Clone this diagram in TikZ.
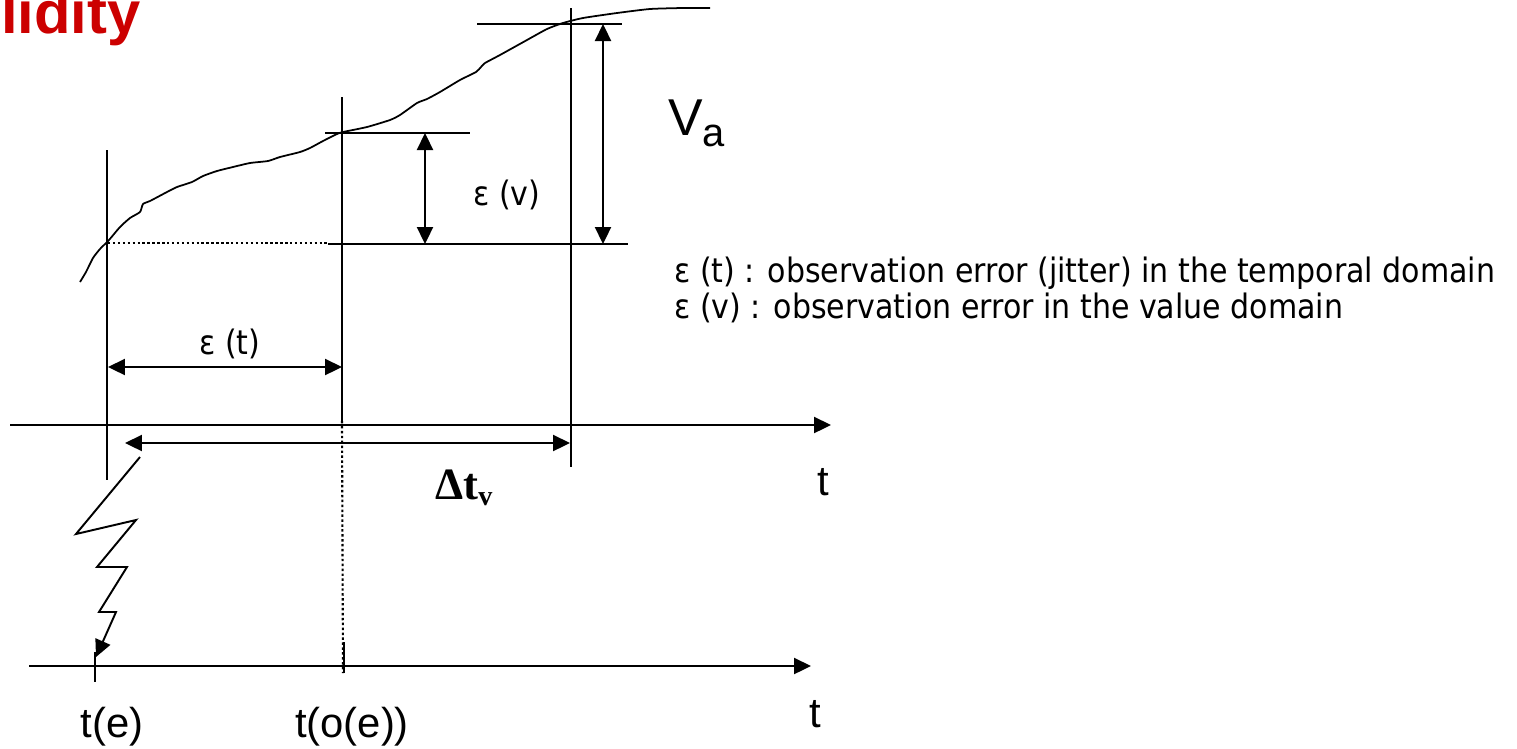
\documentclass[tikz,border=0pt]{standalone}
\usepackage{fontspec}
\setmainfont{Liberation Sans}
\newfontfamily\timesfont{Liberation Serif}
\newfontfamily\legendfont{DejaVu Sans}
\usetikzlibrary{arrows.meta}
\definecolor{titlered}{RGB}{204,0,0}
\newcommand{\tallish}[1]{\scalebox{1}[1.12]{#1}}
\begin{document}
\begin{tikzpicture}[x=0.02cm,y=-0.02cm,
  ln/.style={line width=1.3pt},
  thin curve/.style={line width=1pt},
  tipA/.tip={Triangle[length=0.34cm,width=0.32cm]},
  dimarrow/.style={line width=1.3pt,tipA-tipA},
  onearrow/.style={line width=1.3pt,-tipA},
  dotline/.style={line width=1.2pt,dash pattern=on 1.4pt off 1.4pt},
  lbl/.style={inner sep=0pt,font=\fontsize{23.8pt}{26pt}\selectfont},
  leg/.style={inner sep=0pt,font=\legendfont\fontsize{17.1pt}{20pt}\selectfont},
]
\useasboundingbox (0,0) rectangle (1517,748);
\clip (0,0) rectangle (1517,748);

% title (cut at the left edge)
\node[inner sep=0pt,anchor=base east,text=titlered,font=\bfseries\fontsize{34pt}{36pt}\selectfont] (title) at (141,33) {lidity};

% coordinates
\coordinate (L1) at (107,150); \coordinate (L2) at (107,480);
\coordinate (M1) at (342,97);  \coordinate (M2) at (342,421);
\coordinate (R1) at (571,8);   \coordinate (R2) at (571,467);
\coordinate (A0) at (10,425);  \coordinate (A1) at (831,425);
\coordinate (B0) at (29,666);  \coordinate (B1) at (811,666);
\coordinate (H1a) at (477,24); \coordinate (H1b) at (622,24);
\coordinate (H2a) at (325,133);\coordinate (H2b) at (470,133);
\coordinate (H3a) at (328,244);\coordinate (H3b) at (628,244);
\coordinate (D0) at (108,243); \coordinate (D1) at (328,243);
\coordinate (EV0) at (425,133);\coordinate (EV1) at (425,244);
\coordinate (VA0) at (603,24); \coordinate (VA1) at (603,244);
\coordinate (ET0) at (108,367);\coordinate (ET1) at (342,367);
\coordinate (DT0) at (125,443);\coordinate (DT1) at (570,443);
\coordinate (TE0) at (95,652); \coordinate (TE1) at (95,682);
\coordinate (TO0) at (344,642);\coordinate (TO1) at (344,673);
\coordinate (DV1) at (343,673);
\coordinate (Z0) at (140,457); \coordinate (Z1) at (76,534);
\coordinate (Z2) at (136,520); \coordinate (Z3) at (97,567);
\coordinate (Z4) at (127,567); \coordinate (Z5) at (99,612);
\coordinate (Z6) at (116,612); \coordinate (Z7) at (96,657);

% value curve
\draw[thin curve] plot[smooth,tension=0.35] coordinates {
 (80,282) (86,272) (93,258) (100,249) (109,240) (120,227) (130,218) (140,212)
 (143,204) (150,201) (167,192) (177,187) (192,182) (203,176) (217,171) (233,167)
 (250,163) (268,161) (280,157) (300,152) (310,148) (323,141) (337,134) (343,132)
 (367,127) (390,120) (400,115) (417,103) (427,99) (440,92) (460,80) (476,72)
 (481,67) (485,63) (500,55) (527,40) (547,29) (563,23) (583,18) (617,13)
 (650,9) (683,8) (710,8)};

% verticals
\draw[ln] (L1) -- (L2);
\draw[ln] (M1) -- (M2);
\draw[ln] (R1) -- (R2);
\draw[dotline] (M2) -- (DV1);

% horizontal reference lines
\draw[ln] (H1a) -- (H1b);
\draw[ln] (H2a) -- (H2b);
\draw[ln] (H3a) -- (H3b);
\draw[dotline] (D0) -- (D1);

% dimension arrows
\draw[dimarrow] (EV0) -- (EV1);
\draw[dimarrow] (VA0) -- (VA1);
\draw[dimarrow] (ET0) -- (ET1);
\draw[dimarrow] (DT0) -- (DT1);

% axes
\draw[onearrow] (A0) -- (A1);
\draw[onearrow] (B0) -- (B1);
\draw[ln] (TE0) -- (TE1);
\draw[ln] (TO0) -- (TO1);

% lightning arrow
\draw[line width=1.1pt,-tipA] (Z0) -- (Z1) -- (Z2) -- (Z3) -- (Z4) -- (Z5) -- (Z6) -- (Z7);

% labels
\node[lbl,anchor=base] (te) at (112,737) {t(e)};
\node[lbl,anchor=base] (toe) at (352,737) {t(o(e))};
\node[lbl,anchor=base] (t1) at (823,495) {t};
\node[lbl,anchor=base] (t2) at (815,727) {t};
\node[inner sep=0pt,anchor=base west] (va) at (668,135)
  {\fontsize{29.5pt}{32pt}\selectfont V\raisebox{-6.8pt}{\fontsize{22.7pt}{24pt}\selectfont a}};
\node[inner sep=0pt,anchor=base west,font=\timesfont\bfseries\fontsize{25.5pt}{27pt}\selectfont] (dtv) at (435,499)
  {Δt\raisebox{-3.6pt}{\fontsize{16pt}{17pt}\selectfont v}};
\node[leg,anchor=base] (et) at (230,354) {\tallish{ε (t)}};
\node[leg,anchor=base] (ev) at (507,205) {\tallish{ε (v)}};
\node[leg,anchor=base west] (leg1) at (674,282) {\tallish{ε (t) : observation error (jitter) in the temporal domain}};
\node[leg,anchor=base west] (leg2) at (674,318) {\tallish{ε (v) : observation error in the value domain}};
\end{tikzpicture}
\end{document}
